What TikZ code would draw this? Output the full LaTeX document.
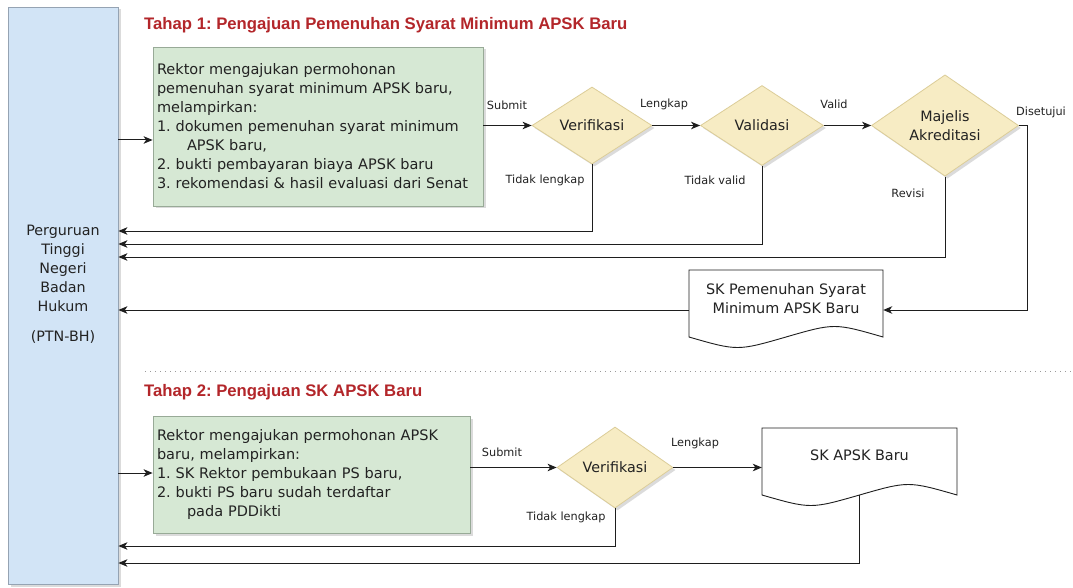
\documentclass[tikz,border=0pt]{standalone}
\usepackage{fontspec}
\setmainfont{DejaVu Sans}
\newfontfamily\titlefont{Liberation Sans}
\usetikzlibrary{shapes.geometric,arrows.meta,shadows,calc}
\frenchspacing

\definecolor{ptnfill}{HTML}{D2E4F6}
\definecolor{ptndraw}{HTML}{95A3B3}
\definecolor{grfill}{HTML}{D6E8D4}
\definecolor{grdraw}{HTML}{98AA97}
\definecolor{dmfill}{HTML}{F7ECC4}
\definecolor{dmdraw}{HTML}{DCCD98}
\definecolor{linec}{HTML}{1E1E1E}
\definecolor{txtc}{HTML}{222222}
\definecolor{ttlc}{HTML}{B3262A}
\definecolor{sepc}{HTML}{9A9A9A}

\begin{document}
\begin{tikzpicture}[x=1pt,y=-1pt,
  shd/.style={drop shadow={opacity=0.28,shadow xshift=2.5pt,shadow yshift=-2.5pt}},
  ptnbox/.style={draw=ptndraw,fill=ptnfill,line width=0.8pt,shd,minimum width=110pt,minimum height=577pt,inner sep=0pt},
  ptntext/.style={text=txtc,align=center,font=\fontsize{14.3pt}{19pt}\selectfont,inner sep=0pt},
  greenbox/.style={draw=grdraw,fill=grfill,line width=0.8pt,shd,align=left,inner sep=4pt,text=txtc,font=\fontsize{14.5pt}{19pt}\selectfont},
  dec/.style={shape=diamond,draw=dmdraw,fill=dmfill,line width=0.8pt,shd,inner sep=0pt,align=center,text=txtc,font=\fontsize{14.3pt}{19pt}\selectfont},
  docbox/.style={draw=none,inner sep=0pt,align=center,text=txtc,font=\fontsize{14.4pt}{19pt}\selectfont},
  docline/.style={draw=linec,fill=white,line width=0.9pt},
  lbl/.style={inner sep=0pt,text=txtc,font=\fontsize{11.3pt}{13pt}\selectfont},
  ttl/.style={inner sep=0pt,anchor=west,text=ttlc,font=\titlefont\bfseries\fontsize{16.7pt}{19pt}\selectfont},
  ln/.style={draw=linec,line width=1pt},
  arr/.style={ln,-{Stealth[length=9pt,width=7.5pt,inset=2.5pt]}},
  sepline/.style={draw=sepc,line width=1pt,dash pattern=on 1pt off 4pt}
]
\useasboundingbox (0,0) rectangle (1073,588);
\fill[white] (0,0) rectangle (1073,588);

% left actor box
\node[ptnbox] (ptn) at (63,295.5) {};
\node[ptntext] (ptnlbl) at (63,284.5) {Perguruan\\Tinggi\\Negeri\\Badan\\Hukum\\[11pt](PTN-BH)};

% titles
\node[ttl] (t1) at (144,25) {Tahap 1: Pengajuan Pemenuhan Syarat Minimum APSK Baru};
\node[ttl] (t2) at (144,392) {Tahap 2: Pengajuan SK APSK Baru};

% separator
\draw[sepline] (145,371) -- (1073,371);

% stage 1
\node[greenbox,minimum width=330pt,minimum height=159pt,text width=322pt] (g1) at (318,126.5)
 {Rektor mengajukan permohonan\\pemenuhan syarat minimum APSK baru,\\melampirkan:\\1. dokumen pemenuhan syarat minimum\\\hspace*{30pt}APSK baru,\\2. bukti pembayaran biaya APSK baru\\3. rekomendasi \& hasil evaluasi dari Senat};

\node[dec,minimum width=120pt,minimum height=77pt] (v1) at (592,125.5) {Verifikasi};
\node[dec,minimum width=123pt,minimum height=80pt] (v2) at (762,125.5) {Validasi};
\node[dec,minimum width=147pt,minimum height=92pt] (v3) at (945,125.5) {Majelis\\Akreditasi};

\draw[docline] (689,270) -- (689,337) .. controls (737.5,351) .. (786,337) .. controls (834.5,323) .. (883,337) -- (883,270) -- cycle;
\node[docbox,minimum width=194pt,minimum height=57pt] (sk1) at (786,298.5) {SK Pemenuhan Syarat\\Minimum APSK Baru};

% labels stage 1
\node[lbl] (lsub1) at (507,105) {Submit};
\node[lbl] (llen1) at (664,104) {Lengkap};
\node[lbl] (lval) at (834,104) {Valid};
\node[lbl] (lset) at (1041,112) {Disetujui};
\node[lbl] (ltl1) at (545,180) {Tidak lengkap};
\node[lbl] (ltv) at (715,180) {Tidak valid};
\node[lbl] (lrev) at (908,193) {Revisi};

% coordinates
\coordinate (r1in) at (0,140);
\coordinate (ret1) at (0,231);
\coordinate (ret2) at (0,244);
\coordinate (ret3) at (0,257);
\coordinate (sk1in) at ([yshift=-11.5pt]sk1.east);
\coordinate (sk1out) at ([yshift=-11.5pt]sk1.west);

% connectors stage 1
\draw[arr] (ptn.east |- r1in) -- (g1.west |- r1in);
\draw[arr] (g1.east |- v1.west) -- (v1.west);
\draw[arr] (v1.east) -- (v2.west);
\draw[arr] (v2.east) -- (v3.west);
\draw[arr] (v3.east) -- ++(9,0) |- (sk1in);
\draw[arr] (v1.south) |- (ptn.east |- ret1);
\draw[arr] (v2.south) |- (ptn.east |- ret2);
\draw[arr] (v3.south) |- (ptn.east |- ret3);
\draw[arr] (sk1out) -- (ptn.east |- sk1out);

% stage 2
\node[greenbox,minimum width=317pt,minimum height=117pt,text width=309pt] (g2) at (311.5,474.5)
 {Rektor mengajukan permohonan APSK\\baru, melampirkan:\\1. SK Rektor pembukaan PS baru,\\2. bukti PS baru sudah terdaftar\\\hspace*{30pt}pada PDDikti};

\node[dec,minimum width=116pt,minimum height=81pt] (v4) at (615,467.5) {Verifikasi};

\draw[docline] (762,428) -- (762,495) .. controls (810.75,509) .. (859.5,495) .. controls (908.25,481) .. (957,495) -- (957,428) -- cycle;
\node[docbox,minimum width=195pt,minimum height=54pt] (sk2) at (859.5,455) {SK APSK Baru};

\node[lbl] (lsub2) at (502,452) {Submit};
\node[lbl] (llen2) at (695,443) {Lengkap};
\node[lbl] (ltl2) at (566,517) {Tidak lengkap};

\coordinate (r2in) at (0,473);
\coordinate (ret4) at (0,546);
\coordinate (ret5) at (0,563);
\coordinate (sk2in) at ([yshift=-12.5pt]sk2.west);

\draw[arr] (ptn.east |- r2in) -- (g2.west |- r2in);
\draw[arr] (g2.east |- v4.west) -- (v4.west);
\draw[arr] (v4.east) -- (sk2in);
\draw[arr] (v4.south) |- (ptn.east |- ret4);
\draw[arr] ([yshift=-13pt]sk2.south) |- (ptn.east |- ret5);
\end{tikzpicture}
\end{document}
